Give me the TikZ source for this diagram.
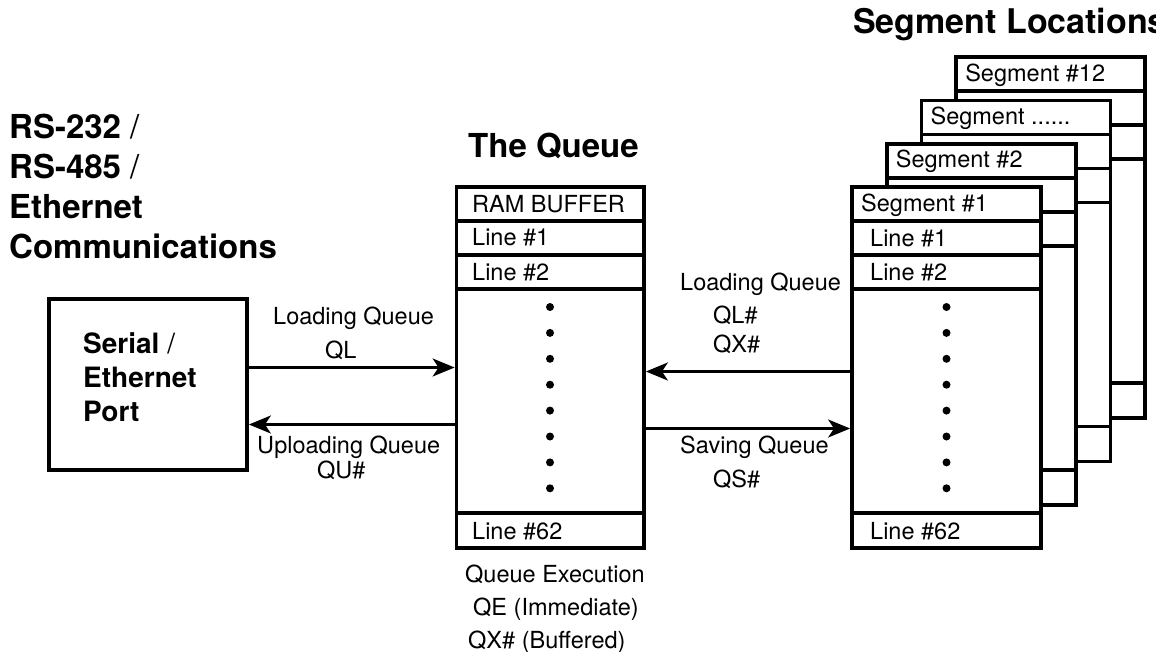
\documentclass[tikz,border=0pt]{standalone}
\usepackage{fontspec}
\setmainfont{TeX Gyre Heros}
\usetikzlibrary{arrows.meta}
\begin{document}
\begin{tikzpicture}[x=1pt,y=-1pt,
  txt/.style={inner sep=0pt, anchor=base west, font=\fontsize{23.5}{28}\selectfont},
  ttl/.style={inner sep=0pt, anchor=base west, font=\fontsize{33}{40}\selectfont\bfseries},
  ptxt/.style={inner sep=0pt, anchor=base west, font=\fontsize{28}{34}\selectfont\bfseries},
  frame/.style={draw, line width=3.8pt, fill=white, inner sep=0pt},
  sep/.style={line width=3.8pt},
  flow/.style={line width=2.5pt, -{Stealth[length=22pt,width=18pt,inset=6pt]}},
  bullet/.style={circle, fill=black, inner sep=0pt, minimum size=8pt}
]
\useasboundingbox (0,0) rectangle (1156,651);

% ---------- left titles ----------
\node[ttl] (t1) at (9,138) {RS-232 {\mdseries /}};
\node[ttl] (t2) at (9,178) {RS-485 {\mdseries /}};
\node[ttl] (t3) at (9,218) {Ethernet};
\node[ttl] (t4) at (9,258) {Communications};

% ---------- serial port ----------
\node[frame, minimum width=198pt, minimum height=171pt] (serial) at (148,384.5) {};
\node[ptxt] (p1) at (83,353) {Serial {\mdseries /}};
\node[ptxt] (p2) at (83,387) {Ethernet};
\node[ptxt] (p3) at (83,421) {Port};

% ---------- the queue ----------
\node[ttl] (qt) at (468,157) {The Queue};
\node[frame, minimum width=187.5pt, minimum height=361pt] (queue) at (550.25,367.5) {};
\foreach \yy in {221,255,289,513}
  \draw[sep] (queue.west |- 0,\yy) -- (queue.east |- 0,\yy);
\node[txt] (qram) at (472,212) {RAM BUFFER};
\node[txt] (ql1) at (472,245) {Line \#1};
\node[txt] (ql2) at (472,280) {Line \#2};
\node[txt] (ql62) at (472,539) {Line \#62};
\foreach \i in {0,...,7}
  \node[bullet] (qd\i) at (550,307+25.9*\i) {};
\node[txt] (qe1) at (465,582) {Queue Execution};
\node[txt] (qe2) at (473,615) {QE (Immediate)};
\node[txt] (qe3) at (468,648) {QX\# (Buffered)};

% ---------- segment locations ----------
\node[ttl, font=\fontsize{34}{40}\selectfont\bfseries] (st) at (853,33) {Segment Locations};
\newcommand\segbox[3]{%
  \begin{scope}[shift={(34.7*#2,-43.3*#2)}]
    \node[frame, minimum width=189pt, minimum height=361pt] (#1) at (946.5,367.5) {};
    \foreach \yy in {221,255,289,513}
      \draw[sep] (#1.west |- 0,\yy) -- (#1.east |- 0,\yy);
    \node[txt] (#1-h) at (861,211) {#3};
  \end{scope}}
\segbox{seg12}{3}{Segment \#12}
\segbox{segx}{2}{Segment ......}
\segbox{seg2}{1}{Segment \#2}
\segbox{seg1}{0}{Segment \#1}
\node[txt] (sl1) at (870,246) {Line \#1};
\node[txt] (sl2) at (870,280) {Line \#2};
\node[txt] (sl62) at (870,539) {Line \#62};
\foreach \i in {0,...,7}
  \node[bullet] (sd\i) at (946.5,307+25.9*\i) {};

% ---------- connectors ----------
\draw[flow] (serial.east |- 0,367.5) -- (queue.west |- 0,367.5);
\draw[flow] (queue.west |- 0,424.5) -- (serial.east |- 0,424.5);
\draw[flow] (seg1.west |- 0,371.5) -- (queue.east |- 0,371.5);
\draw[flow] (queue.east |- 0,428.5) -- (seg1.west |- 0,428.5);

% ---------- connector labels ----------
\node[txt] (la1) at (273,324) {Loading Queue};
\node[txt] (la2) at (325,358) {QL};
\node[txt] (lb1) at (257,453) {Uploading Queue};
\node[txt] (lb2) at (317,478) {QU\#};
\node[txt] (ra1) at (680,290) {Loading Queue};
\node[txt] (ra2) at (713,323) {QL\#};
\node[txt] (ra3) at (713,352) {QX\#};
\node[txt] (rb1) at (680,453) {Saving Queue};
\node[txt] (rb2) at (713,487) {QS\#};
\end{tikzpicture}
\end{document}
